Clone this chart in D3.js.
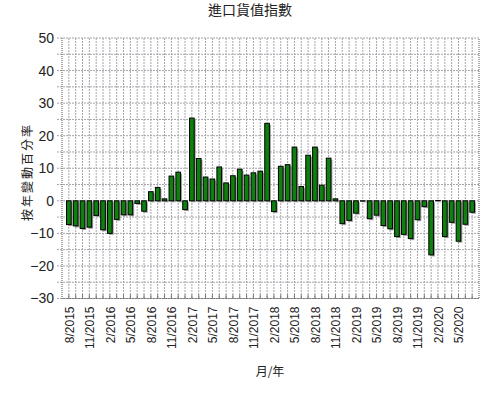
<!DOCTYPE html>
<html>
<head>
<meta charset="utf-8">
<script src="https://d3js.org/d3.v7.min.js"></script>
<style>
  body { margin: 0; background: #fff; }
  svg text { font-family: "Liberation Sans", Arial, sans-serif; fill: #222; }
  svg text.cjk { font-family: "Noto Sans CJK TC", "Noto Sans CJK SC", sans-serif; }
</style>
</head>
<body>
<svg class="chart-bars" width="500" height="400"></svg>
<script>
// 月份 (8/2015 - 7/2020)
var months = [
    "8/2015","9/2015","10/2015","11/2015","12/2015",
    "1/2016","2/2016","3/2016","4/2016","5/2016","6/2016","7/2016","8/2016","9/2016","10/2016","11/2016","12/2016",
    "1/2017","2/2017","3/2017","4/2017","5/2017","6/2017","7/2017","8/2017","9/2017","10/2017","11/2017","12/2017",
    "1/2018","2/2018","3/2018","4/2018","5/2018","6/2018","7/2018","8/2018","9/2018","10/2018","11/2018","12/2018",
    "1/2019","2/2019","3/2019","4/2019","5/2019","6/2019","7/2019","8/2019","9/2019","10/2019","11/2019","12/2019",
    "1/2020","2/2020","3/2020","4/2020","5/2020","6/2020","7/2020"
];

// 按年變動百分率
var values = [
    -7.3, -7.7, -8.5, -8.1, -4.5,
    -8.9, -10.0, -5.7, -4.3, -4.3, -0.8, -3.2, 2.8, 4.1, 0.6, 7.6, 8.8,
    -2.7, 25.4, 13.0, 7.3, 6.7, 10.4, 5.5, 7.7, 9.7, 7.9, 8.6, 9.1,
    23.8, -3.3, 10.6, 11.1, 16.5, 4.4, 14.0, 16.5, 4.8, 13.1, 0.6, -7.0,
    -6.0, -3.8, -0.1, -5.5, -4.4, -7.6, -8.6, -11.0, -10.3, -11.6, -5.8, -1.8,
    -16.6, 0.1, -11.0, -6.6, -12.4, -7.2, -3.5
];

var xTickLabels = ["8/2015","11/2015","2/2016","5/2016","8/2016","11/2016","2/2017",
                   "5/2017","8/2017","11/2017","2/2018","5/2018","8/2018","11/2018",
                   "2/2019","5/2019","8/2019","11/2019","2/2020","5/2020"];
var yTicks = [-30, -20, -10, 0, 10, 20, 30, 40, 50];
var yGrid = [-30, -25, -20, -15, -10, -5, 0, 5, 10, 15, 20, 25, 30, 35, 40, 45, 50];

var plot = { left: 62, right: 479, top: 38, bottom: 298.5 };

var scale = { x: null, y: null };

function start () {
    var data = months.map(function (m, i) { return { month: m, value: values[i] }; });

    scale.x = d3.scalePoint()
                .domain(months)
                .range([plot.left, plot.right])
                .padding(1);
    scale.y = d3.scaleLinear()
                .domain([-30, 50])
                .range([plot.bottom, plot.top]);

    var svg = d3.select("svg.chart-bars");

    drawGrid(svg);
    drawBars(svg, data);
    drawAxes(svg);
    drawTitles(svg);
}

function drawGrid(svg) {
    var g = svg.append("g").attr("class", "grid");

    g.selectAll("line.h")
     .data(yGrid)
     .enter()
     .append("line")
     .attr("class", "h")
     .attr("x1", plot.left - 5)
     .attr("x2", plot.right)
     .attr("y1", function (d) { return scale.y(d); })
     .attr("y2", function (d) { return scale.y(d); })
     .attr("stroke", "#a9a3ab")
     .attr("stroke-dasharray", "2,1");

    g.selectAll("line.v")
     .data(months)
     .enter()
     .append("line")
     .attr("class", "v")
     .attr("x1", function (d) { return scale.x(d); })
     .attr("x2", function (d) { return scale.x(d); })
     .attr("y1", plot.top)
     .attr("y2", plot.bottom)
     .attr("stroke", "#a9a3ab")
     .attr("stroke-dasharray", "2,1");
}

function drawBars(svg, data) {
    var w = scale.x.step() * 0.68;
    var zero = scale.y(0);

    // 陰影
    svg.append("g")
       .selectAll("rect")
       .data(data)
       .enter()
       .append("rect")
       .attr("x", function (d) { return scale.x(d.month) - w / 2 + 1.5; })
       .attr("y", function (d) { return Math.min(scale.y(d.value), zero) + 1.5; })
       .attr("width", w)
       .attr("height", function (d) { return Math.abs(scale.y(d.value) - zero); })
       .attr("fill", "#a0a0a0");

    svg.append("g")
       .selectAll("rect")
       .data(data)
       .enter()
       .append("rect")
       .attr("x", function (d) { return scale.x(d.month) - w / 2; })
       .attr("y", function (d) { return Math.min(scale.y(d.value), zero); })
       .attr("width", w)
       .attr("height", function (d) { return Math.abs(scale.y(d.value) - zero); })
       .attr("fill", "#0d800d")
       .attr("stroke", "#000")
       .attr("stroke-width", 1);
}

function drawAxes(svg) {
    var yAxis = d3.axisLeft(scale.y)
                  .tickValues(yTicks)
                  .tickSize(0)
                  .tickPadding(8)
                  .tickFormat(d3.format("d"));

    var gy = svg.append("g")
                .attr("transform", "translate(" + plot.left + ",0)")
                .call(yAxis);
    gy.select(".domain").remove();
    gy.selectAll("text")
      .attr("font-size", 14)
      .attr("fill", "#222");

    var xAxis = d3.axisBottom(scale.x)
                  .tickValues(xTickLabels)
                  .tickSize(0)
                  .tickPadding(0);

    var gx = svg.append("g")
                .attr("transform", "translate(0," + plot.bottom + ")")
                .call(xAxis);
    gx.select(".domain").remove();
    gx.selectAll("text")
      .attr("font-size", 12)
      .attr("transform", "rotate(-90)")
      .attr("text-anchor", "end")
      .attr("x", -8)
      .attr("y", 0)
      .attr("dy", "0.35em");

    // 月份小刻度
    svg.append("g")
       .selectAll("line")
       .data(months)
       .enter()
       .append("line")
       .attr("x1", function (d) { return scale.x(d); })
       .attr("x2", function (d) { return scale.x(d); })
       .attr("y1", plot.bottom)
       .attr("y2", plot.bottom - 4)
       .attr("stroke", "#777");

    // 框線
    svg.append("path")
       .attr("d", "M" + plot.left + "," + plot.top +
                  "V" + plot.bottom + "H" + plot.right + "V" + plot.top)
       .attr("fill", "none")
       .attr("stroke", "#555")
       .attr("stroke-dasharray", "1,1");
}

function drawTitles(svg) {
    svg.append("text")
       .attr("class", "cjk")
       .attr("x", 250)
       .attr("y", 15)
       .attr("text-anchor", "middle")
       .attr("font-size", 14)
       .text("進口貨值指數");

    svg.append("text")
       .attr("class", "cjk")
       .attr("transform", "translate(32,172) rotate(-90)")
       .attr("text-anchor", "middle")
       .attr("font-size", 12)
       .attr("letter-spacing", 2)
       .text("按年變動百分率");

    svg.append("text")
       .attr("class", "cjk")
       .attr("x", 270)
       .attr("y", 376)
       .attr("text-anchor", "middle")
       .attr("font-size", 12)
       .text("月/年");
}

start();
</script>
</body>
</html>
